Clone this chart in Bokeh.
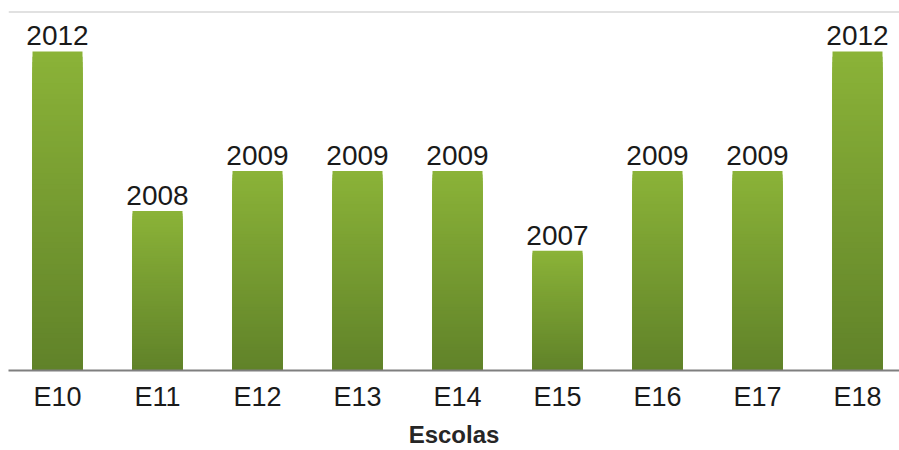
from bokeh.plotting import figure
from bokeh.models import Range1d, Span, FixedTicker
from bokeh.core.properties import value
from bokeh.embed import file_html
from bokeh.resources import INLINE

categories = ["E10", "E11", "E12", "E13", "E14", "E15", "E16", "E17", "E18"]
years = [2012, 2008, 2009, 2009, 2009, 2007, 2009, 2009, 2012]
y_base = 2004
y_top = 2013
axis_title = "Escolas"

top_rgb = (0x8B, 0xB3, 0x38)
bot_rgb = (0x60, 0x82, 0x29)

p = figure(width=899, height=450, output_backend="svg", toolbar_location=None,
           x_range=Range1d(-0.49, 8.42), y_range=Range1d(y_base, y_top),
           min_border_left=8, min_border_right=0, min_border_top=11, min_border_bottom=0)
p.outline_line_color = None
p.xgrid.visible = False
p.ygrid.visible = False
p.yaxis.visible = False

xs = list(range(len(categories)))

# gradient bars: overlapping layers, light full-height first, darker shorter on top
N = 60
for j in range(N - 1, -1, -1):
    t = (j + 0.5) / N
    col = "#%02x%02x%02x" % tuple(int(round(b + (a - b) * t)) for a, b in zip(top_rgb, bot_rgb))
    tops = [y_base + (v - y_base) * (j + 1) / N for v in years]
    p.vbar(x=xs, bottom=y_base, top=tops, width=0.5, fill_color=col, line_color=None)

p.text(x=xs, y=years, text=[str(v) for v in years], text_align="center",
       text_baseline="bottom", y_offset=-6, text_font_size="28px",
       text_font=value("Liberation Sans"), text_color="#1a1a1a")

p.add_layout(Span(location=y_top, dimension="width", line_color="#c4c4c4", line_width=2))

ax = p.xaxis[0]
ax.ticker = FixedTicker(ticks=xs)
ax.major_label_overrides = {i: c for i, c in enumerate(categories)}
ax.axis_line_color = "#7f7f7f"
ax.axis_line_width = 2
ax.major_tick_line_color = None
ax.minor_tick_line_color = None
ax.major_label_text_font = "Liberation Sans"
ax.major_label_text_font_size = "27px"
ax.major_label_text_color = "#1a1a1a"
ax.major_label_standoff = 5
ax.axis_label = axis_title
ax.axis_label_text_font = "Liberation Sans"
ax.axis_label_text_font_style = "bold"
ax.axis_label_text_font_size = "24px"
ax.axis_label_text_color = "#262626"
ax.axis_label_standoff = 6

open("out.html", "w").write(file_html(p, INLINE))
